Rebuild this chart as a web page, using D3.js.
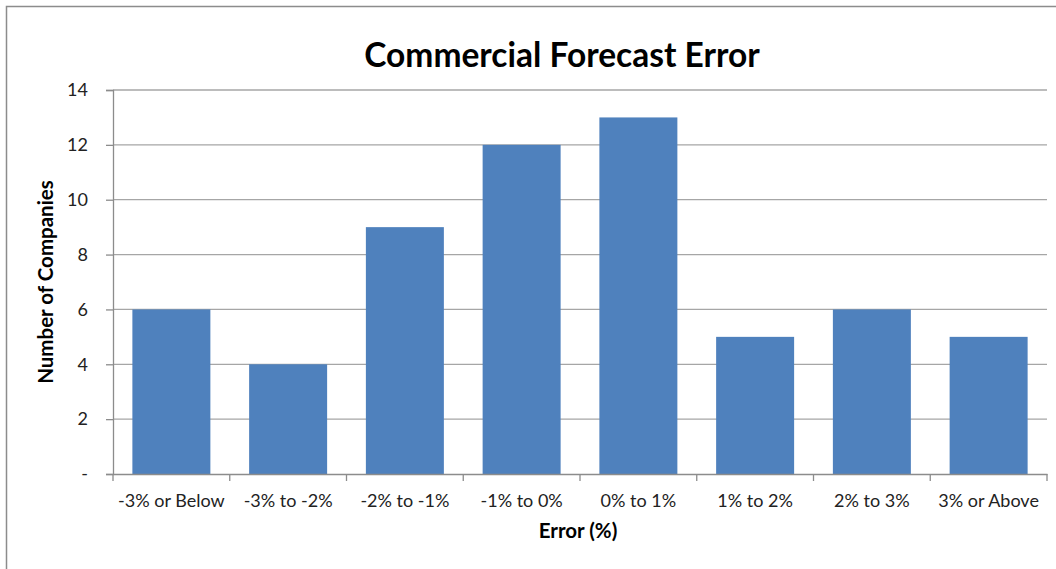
<!DOCTYPE html>
<html><head><meta charset="utf-8">
<script src="https://d3js.org/d3.v7.min.js"></script>
<style>body{margin:0;background:#fff}svg{display:block}text{font-family:Lato,'Open Sans',sans-serif}</style>
</head><body>
<svg id="c" width="1056" height="569"></svg>
<script>
const categories = ["-3% or Below","-3% to -2%","-2% to -1%","-1% to 0%","0% to 1%","1% to 2%","2% to 3%","3% or Above"];
const values = [6,4,9,12,13,5,6,5];
const yTicks = [0,2,4,6,8,10,12,14];
const title = "Commercial Forecast Error";
const xTitle = "Error (%)";
const yTitle = "Number of Companies";

const svg = d3.select("#c");
const m = {l:113, r:1047, t:90, b:474};
// outer border
svg.append("path").attr("d","M6.5,569 V6.5 H1056").attr("fill","none").attr("stroke","#8c8c8c").attr("stroke-width",1.5);

const x = d3.scaleBand().domain(categories).range([m.l,m.r]).paddingInner(0.332).paddingOuter(0.166);
const y = d3.scaleLinear().domain([0,14]).range([m.b,m.t]);

// gridlines
svg.append("g").selectAll("line").data(yTicks.filter(d=>d>0)).join("line")
  .attr("x1",m.l).attr("x2",m.r).attr("y1",d=>y(d)).attr("y2",d=>y(d))
  .attr("stroke","#a6a6a6").attr("stroke-width",1.3);

// bars
svg.append("g").selectAll("rect").data(values).join("rect")
  .attr("x",(d,i)=>x(categories[i])).attr("width",x.bandwidth())
  .attr("y",d=>y(d)).attr("height",d=>y(0)-y(d)).attr("fill","#4f81bd");

// y axis
const ya = svg.append("g").attr("transform",`translate(${m.l},0)`)
  .call(d3.axisLeft(y).tickValues(yTicks).tickSize(7).tickPadding(18).tickFormat(d=>d===0?"-":d));
ya.select(".domain").attr("stroke","#8c8c8c").attr("stroke-width",1.3);
ya.selectAll(".tick line").attr("stroke","#8c8c8c").attr("stroke-width",1.3);
ya.selectAll("text").attr("font-size",18).attr("fill","#222");

// x axis
const step = x.step();
const xa = svg.append("g").attr("transform",`translate(0,${m.b})`)
  .call(d3.axisBottom(x).tickSize(0).tickPadding(20));
xa.select(".domain").attr("stroke","#8c8c8c").attr("stroke-width",1.3);
xa.selectAll("text").attr("font-size",18).attr("fill","#222");
const bounds = d3.range(categories.length+1).map(i=>m.l+i*step);
xa.append("g").selectAll("line").data(bounds).join("line")
  .attr("x1",d=>d).attr("x2",d=>d).attr("y1",0).attr("y2",7)
  .attr("stroke","#8c8c8c").attr("stroke-width",1.3);

// titles
svg.append("text").attr("x",562).attr("y",67).attr("text-anchor","middle")
  .attr("font-size",33.5).attr("font-weight","bold").attr("fill","#000").text(title);
svg.append("text").attr("x",578).attr("y",538).attr("text-anchor","middle")
  .attr("font-size",20.5).attr("font-weight","bold").attr("fill","#000").text(xTitle);
svg.append("text").attr("transform","translate(53,282) rotate(-90)").attr("text-anchor","middle")
  .attr("font-size",20.5).attr("font-weight","bold").attr("fill","#000").text(yTitle);
</script>
</body></html>
